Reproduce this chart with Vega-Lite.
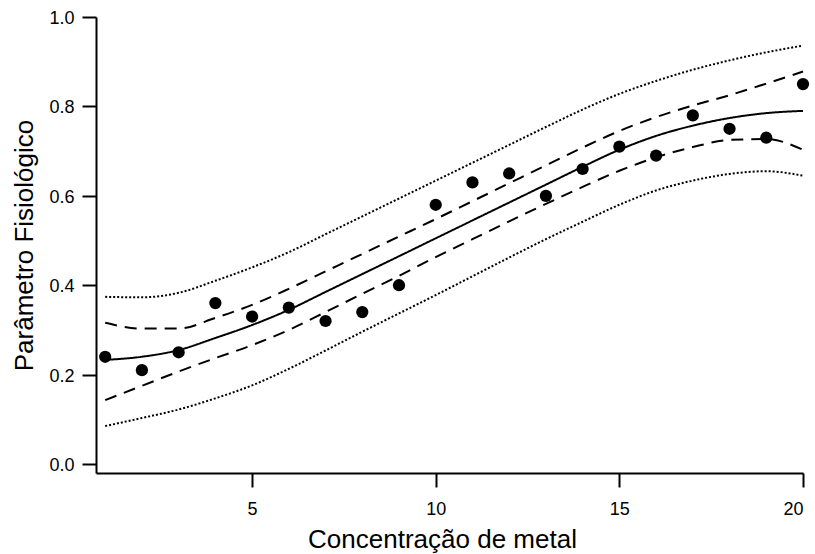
{
  "$schema": "https://vega.github.io/schema/vega-lite/v6.json",
  "width": 707,
  "height": 456,
  "autosize": {"type": "none"},
  "padding": {"left": 96, "top": 17, "right": 12, "bottom": 81},
  "background": "white",
  "config": {
    "view": {"stroke": null},
    "font": "Liberation Sans",
    "axis": {
      "grid": false,
      "domainColor": "black",
      "domainWidth": 2,
      "tickColor": "black",
      "tickWidth": 2,
      "tickSize": 14,
      "labelFont": "Liberation Sans",
      "labelFontSize": 18,
      "labelColor": "black",
      "titleFont": "Liberation Sans",
      "titleFontSize": 26,
      "titleFontWeight": "normal",
      "titleColor": "black"
    }
  },
  "datasets": {
    "points": [
      {"x": 1, "y": 0.24}, {"x": 2, "y": 0.21}, {"x": 3, "y": 0.25}, {"x": 4, "y": 0.36},
      {"x": 5, "y": 0.33}, {"x": 6, "y": 0.35}, {"x": 7, "y": 0.32}, {"x": 8, "y": 0.34},
      {"x": 9, "y": 0.40}, {"x": 10, "y": 0.58}, {"x": 11, "y": 0.63}, {"x": 12, "y": 0.65},
      {"x": 13, "y": 0.60}, {"x": 14, "y": 0.66}, {"x": 15, "y": 0.71}, {"x": 16, "y": 0.69},
      {"x": 17, "y": 0.78}, {"x": 18, "y": 0.75}, {"x": 19, "y": 0.73}, {"x": 20, "y": 0.85}
    ],
    "curves": [
      {"x": 1, "fit": 0.233, "ciU": 0.316, "ciL": 0.143, "piU": 0.374, "piL": 0.085},
      {"x": 2, "fit": 0.240, "ciU": 0.303, "ciL": 0.175, "piU": 0.373, "piL": 0.103},
      {"x": 3, "fit": 0.255, "ciU": 0.303, "ciL": 0.207, "piU": 0.383, "piL": 0.122},
      {"x": 4, "fit": 0.282, "ciU": 0.327, "ciL": 0.237, "piU": 0.410, "piL": 0.147},
      {"x": 5, "fit": 0.311, "ciU": 0.356, "ciL": 0.266, "piU": 0.440, "piL": 0.176},
      {"x": 6, "fit": 0.345, "ciU": 0.392, "ciL": 0.300, "piU": 0.474, "piL": 0.213},
      {"x": 7, "fit": 0.385, "ciU": 0.431, "ciL": 0.340, "piU": 0.514, "piL": 0.254},
      {"x": 8, "fit": 0.425, "ciU": 0.470, "ciL": 0.381, "piU": 0.554, "piL": 0.296},
      {"x": 9, "fit": 0.465, "ciU": 0.509, "ciL": 0.421, "piU": 0.594, "piL": 0.337},
      {"x": 10, "fit": 0.505, "ciU": 0.548, "ciL": 0.463, "piU": 0.634, "piL": 0.378},
      {"x": 11, "fit": 0.545, "ciU": 0.588, "ciL": 0.503, "piU": 0.674, "piL": 0.420},
      {"x": 12, "fit": 0.585, "ciU": 0.628, "ciL": 0.543, "piU": 0.714, "piL": 0.462},
      {"x": 13, "fit": 0.625, "ciU": 0.668, "ciL": 0.582, "piU": 0.754, "piL": 0.503},
      {"x": 14, "fit": 0.665, "ciU": 0.708, "ciL": 0.620, "piU": 0.793, "piL": 0.542},
      {"x": 15, "fit": 0.703, "ciU": 0.745, "ciL": 0.656, "piU": 0.828, "piL": 0.580},
      {"x": 16, "fit": 0.734, "ciU": 0.776, "ciL": 0.686, "piU": 0.857, "piL": 0.612},
      {"x": 17, "fit": 0.757, "ciU": 0.802, "ciL": 0.709, "piU": 0.882, "piL": 0.634},
      {"x": 18, "fit": 0.774, "ciU": 0.825, "ciL": 0.725, "piU": 0.903, "piL": 0.649},
      {"x": 19, "fit": 0.785, "ciU": 0.851, "ciL": 0.727, "piU": 0.921, "piL": 0.655},
      {"x": 20, "fit": 0.790, "ciU": 0.878, "ciL": 0.703, "piU": 0.936, "piL": 0.645}
    ]
  },
  "encoding": {
    "x": {
      "field": "x",
      "type": "quantitative",
      "scale": {"domain": [0.75, 20], "nice": false, "zero": false},
      "axis": {
        "title": "Concentração de metal",
        "values": [5, 10, 15, 20],
        "labelPadding": 13,
        "titleX": 346,
        "titleY": 74,
        "titleBaseline": "alphabetic",
        "titleAnchor": "start",
        "titleAlign": "center"
      }
    },
    "y": {
      "field": "y",
      "type": "quantitative",
      "scale": {"domain": [-0.02, 1.0], "nice": false, "zero": false},
      "axis": {
        "title": "Parâmetro Fisiológico",
        "values": [0, 0.2, 0.4, 0.6, 0.8, 1.0],
        "format": ".1f",
        "labelPadding": 8,
        "labelOffset": 1.5,
        "titleX": -85,
        "titleY": 228,
        "titleAngle": -90,
        "titleAlign": "center",
        "titleBaseline": "top",
        "titleAnchor": "start"
      }
    }
  },
  "layer": [
    {
      "data": {"name": "curves"},
      "transform": [{"fold": ["fit", "ciU", "ciL", "piU", "piL"], "as": ["s", "y"]}],
      "mark": {"type": "line", "interpolate": "monotone", "color": "black", "strokeWidth": 2, "strokeCap": "butt"},
      "encoding": {
        "detail": {"field": "s"},
        "strokeDash": {
          "field": "s",
          "type": "nominal",
          "scale": {
            "domain": ["fit", "ciU", "ciL", "piU", "piL"],
            "range": [[1, 0], [12, 8], [12, 8], [2, 2], [2, 2]]
          },
          "legend": null
        }
      }
    },
    {
      "data": {"name": "points"},
      "mark": {"type": "point", "filled": true, "color": "black", "opacity": 1, "size": 150, "shape": "circle"}
    }
  ]
}
